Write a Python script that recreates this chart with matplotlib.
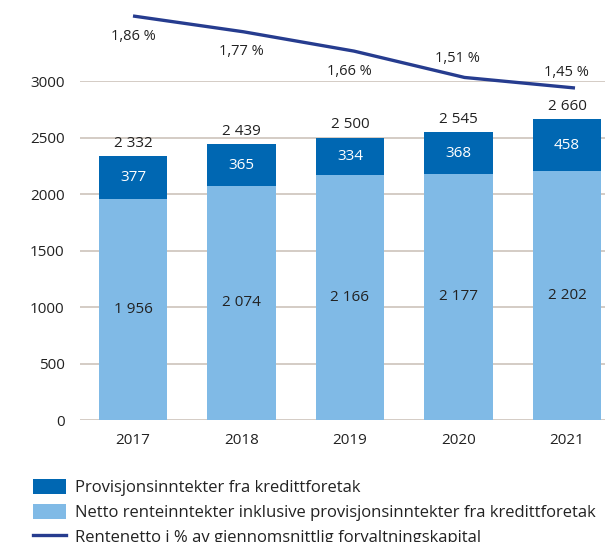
import matplotlib
matplotlib.use("Agg")
import matplotlib.pyplot as plt
from matplotlib.patches import Patch
from matplotlib.lines import Line2D

plt.rcParams['font.family'] = ['Open Sans', 'DejaVu Sans']

years = ['2017', '2018', '2019', '2020', '2021']
netto = [1956, 2074, 2166, 2177, 2202]
provisjon = [377, 365, 334, 368, 458]
totals = [2332, 2439, 2500, 2545, 2660]
rentenetto = [1.86, 1.77, 1.66, 1.51, 1.45]
yticks = [0, 500, 1000, 1500, 2000, 2500, 3000]

dark_blue = '#0067b2'
light_blue = '#80bae6'
navy = '#263c8f'
grid_col = '#cdc4bb'
text_col = '#222222'

W, H = 605, 542
fig = plt.figure(figsize=(W / 100, H / 100), dpi=100)

# main bar axes
ax = fig.add_axes([80 / W, 1 - 420 / H, (W - 80) / W, (420 - 81) / H])
x = list(range(len(years)))
ax.bar(x, netto, width=0.63, color=light_blue, zorder=2)
ax.bar(x, provisjon, width=0.63, bottom=netto, color=dark_blue, zorder=2)

for i in x:
    ax.text(i, netto[i] / 2, f"{netto[i]:,}".replace(',', ' '), ha='center', va='center',
            fontsize=11, color=text_col, zorder=3)
    ax.text(i, netto[i] + provisjon[i] / 2, f"{provisjon[i]}", ha='center', va='center',
            fontsize=11, color='white', zorder=3)
    ax.text(i, totals[i] + 115, f"{totals[i]:,}".replace(',', ' '), ha='center', va='center',
            fontsize=11, color=text_col, zorder=3)

ax.set_xlim(-0.488, 4.35)
ax.set_ylim(0, 3000)
ax.set_yticks(yticks)
ax.set_yticklabels([str(v) for v in yticks])
ax.set_xticks(x)
ax.set_xticklabels(years)
ax.yaxis.grid(True, color=grid_col, linewidth=1.2, zorder=0)
ax.set_axisbelow(True)
for s in ax.spines.values():
    s.set_visible(False)
ax.tick_params(axis='y', length=0, pad=11, labelsize=11, labelcolor=text_col)
ax.tick_params(axis='x', length=0, pad=9, labelsize=11, labelcolor=text_col)

# overlay axes for the percentage line
ax2 = fig.add_axes([0, 0, 1, 1])
ax2.set_xlim(-1.2036, 4.2715)
ax2.set_ylim(-1.135, 1.951)
ax2.axis('off')
ax2.patch.set_alpha(0)
ax2.plot(x, rentenetto, color=navy, linewidth=2.4, solid_capstyle='butt')
label_dy = [-0.115, -0.115, -0.115, 0.11, 0.09]
for i in x:
    ax2.text(i - 0.08 * (i / 4), rentenetto[i] + label_dy[i],
             f"{rentenetto[i]:.2f} %".replace('.', ','),
             ha='center', va='center', fontsize=10.5, color=text_col)

handles = [
    Patch(facecolor=dark_blue, edgecolor='none'),
    Patch(facecolor=light_blue, edgecolor='none'),
    Line2D([0], [0], color=navy, linewidth=2.4),
]
labels = [
    'Provisjonsinntekter fra kredittforetak',
    'Netto renteinntekter inklusive provisjonsinntekter fra kredittforetak',
    'Rentenetto i % av gjennomsnittlig forvaltningskapital',
]
fig.legend(handles, labels, loc='upper left', bbox_to_anchor=(18 / W, 1 - 464 / H),
           frameon=False, fontsize=12, handlelength=2.0, handleheight=1.0,
           labelspacing=0.45, handletextpad=0.5, labelcolor=text_col)

fig.savefig('out.png', dpi=100)
